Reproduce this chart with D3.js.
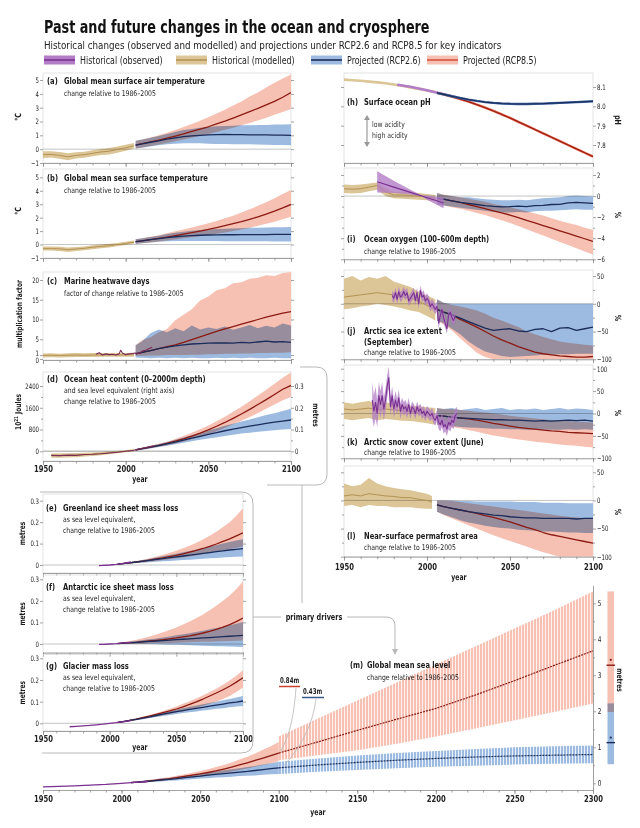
<!DOCTYPE html>
<html><head><meta charset="utf-8">
<script src="https://cdn.jsdelivr.net/npm/d3@7"></script>
<style>
body{margin:0;background:#fff;}
svg{font-family:"Liberation Sans Narrow","DejaVu Sans Condensed","Arial Narrow",sans-serif;}
</style></head><body>
<svg id="c" width="640" height="828"></svg>
<script>
// ---------------- DATA ----------------
const yrsH = [1950,1955,1960,1965,1970,1975,1980,1985,1990,1995,2000,2005];
const yrsP = [2006,2010,2015,2020,2025,2030,2035,2040,2045,2050,2055,2060,2065,2070,2075,2080,2085,2090,2095,2100];
const legendLabels = ["Historical (observed)","Historical (modelled)","Projected (RCP2.6)","Projected (RCP8.5)"];
const xMajor = [1950,2000,2050,2100];

// (a) air temperature
const aHistMid = [-0.4,-0.38,-0.45,-0.55,-0.45,-0.4,-0.3,-0.2,-0.15,-0.02,0.1,0.25];
const aHistLo  = [-0.65,-0.6,-0.7,-0.8,-0.68,-0.62,-0.52,-0.42,-0.38,-0.25,-0.12,0.05];
const aHistHi  = [-0.15,-0.15,-0.2,-0.3,-0.22,-0.18,-0.08,0.02,0.08,0.2,0.32,0.45];
const a26Mid = [0.3,0.38,0.5,0.6,0.72,0.82,0.9,0.96,1.0,1.04,1.05,1.06,1.05,1.05,1.04,1.04,1.03,1.02,1.02,1.0];
const a26Lo  = [0.05,0.1,0.2,0.28,0.35,0.4,0.42,0.42,0.42,0.4,0.38,0.38,0.36,0.35,0.35,0.33,0.32,0.3,0.3,0.28];
const a26Hi  = [0.6,0.7,0.82,0.95,1.1,1.25,1.38,1.45,1.55,1.6,1.65,1.68,1.7,1.72,1.72,1.75,1.75,1.78,1.78,1.8];
const a85Mid = [0.3,0.4,0.52,0.65,0.8,0.95,1.1,1.28,1.45,1.62,1.82,2.02,2.25,2.48,2.72,2.95,3.2,3.45,3.75,4.1];
const a85Lo  = [0.05,0.12,0.22,0.33,0.45,0.58,0.7,0.82,0.96,1.1,1.25,1.4,1.55,1.72,1.9,2.08,2.28,2.48,2.68,2.9];
const a85Hi  = [0.6,0.7,0.85,1.0,1.18,1.38,1.6,1.82,2.05,2.3,2.58,2.85,3.15,3.45,3.8,4.1,4.45,4.8,5.1,5.4];

// (b) sea surface temperature
const bHistMid = [-0.3,-0.3,-0.32,-0.38,-0.33,-0.28,-0.2,-0.14,-0.08,0.0,0.08,0.18];
const bHistLo  = [-0.45,-0.45,-0.48,-0.55,-0.48,-0.42,-0.35,-0.28,-0.22,-0.12,-0.04,0.06];
const bHistHi  = [-0.15,-0.15,-0.16,-0.22,-0.18,-0.14,-0.06,0.0,0.06,0.12,0.2,0.3];
const b26Mid = [0.22,0.28,0.36,0.44,0.52,0.58,0.63,0.67,0.69,0.71,0.72,0.73,0.73,0.74,0.74,0.74,0.74,0.75,0.75,0.75];
const b26Lo  = [0.05,0.1,0.15,0.2,0.24,0.26,0.27,0.27,0.27,0.26,0.26,0.25,0.25,0.25,0.24,0.24,0.24,0.23,0.23,0.22];
const b26Hi  = [0.4,0.46,0.56,0.66,0.78,0.88,0.96,1.02,1.08,1.12,1.15,1.18,1.2,1.22,1.24,1.25,1.26,1.28,1.28,1.3];
const b85Mid = [0.22,0.28,0.37,0.46,0.56,0.66,0.77,0.88,1.0,1.12,1.26,1.4,1.55,1.7,1.88,2.06,2.26,2.48,2.72,2.98];
const b85Lo  = [0.05,0.1,0.16,0.22,0.3,0.38,0.46,0.54,0.62,0.7,0.8,0.9,1.0,1.12,1.25,1.4,1.55,1.7,1.88,2.06];
const b85Hi  = [0.4,0.46,0.58,0.7,0.84,0.98,1.12,1.26,1.42,1.58,1.76,1.95,2.15,2.38,2.62,2.88,3.15,3.45,3.75,4.05];

// (c) marine heatwave days
const cHistMid = [0.9,0.95,0.9,0.95,1.0,0.95,1.0,1.0,1.05,1.0,1.05,1.1];
const cHistLo  = [0.4,0.45,0.4,0.45,0.5,0.5,0.5,0.55,0.55,0.6,0.6,0.6];
const cHistHi  = [1.4,1.45,1.35,1.45,1.5,1.45,1.5,1.5,1.55,1.5,1.55,1.6];
const cObsYears = [1982,1984,1986,1988,1990,1992,1994,1996,1997,1998,2000,2002,2004,2006,2008,2010,2012,2014,2016];
const cObs      = [1.2,1.6,1.0,1.3,1.1,1.2,1.0,1.3,2.2,1.5,1.1,1.3,1.4,1.5,1.4,2.0,2.2,2.6,3.0];
const c26Mid = [1.3,1.7,2.1,2.6,3.0,3.3,3.6,3.8,3.9,4.0,4.05,4.1,4.0,4.2,4.1,4.3,4.5,4.3,4.4,4.2];
const c26Lo  = [0.4,0.3,0.2,0.3,0.2,0.3,0.2,0.3,0.2,0.2,0.3,0.2,0.3,0.2,0.3,0.2,0.2,0.3,0.2,0.2];
const c26Hi  = [3.5,4.5,6.5,7.5,6.8,7.8,7.0,8.5,7.5,8.0,7.6,8.2,7.4,8.0,8.6,7.8,8.4,8.0,9.0,8.5];
const c85Mid = [1.3,1.7,2.1,2.6,3.1,3.6,4.2,4.9,5.6,6.3,7.0,7.6,8.2,8.8,9.4,10.0,10.6,11.1,11.6,12.0];
const c85Lo  = [0.8,0.8,0.9,0.9,1.0,1.0,1.0,1.1,1.1,1.2,1.2,1.3,1.3,1.4,1.4,1.5,1.5,1.6,1.6,1.7];
const c85Hi  = [3.5,4.8,5.5,6.8,7.6,9.8,11.2,12.6,14.8,15.8,17.4,17.9,19.2,19.4,20.3,20.6,21.2,21.0,21.8,22.0];

// (d) ocean heat content (10^21 J)
const dHistYears = [1955,1960,1965,1970,1975,1980,1985,1990,1995,2000,2005];
const dHistMid = [-160,-155,-150,-140,-125,-110,-85,-60,-30,0,40];
const dHistLo  = [-240,-235,-230,-215,-195,-175,-145,-110,-70,-35,0];
const dHistHi  = [-80,-75,-70,-65,-55,-45,-25,-10,10,35,80];
const dObsYears = [1955,1960,1965,1970,1975,1980,1985,1990,1995,2000,2005,2010,2017];
const dObs      = [-150,-160,-140,-150,-120,-110,-90,-60,-35,0,40,110,200];
const d26Mid = [50,95,150,210,270,340,410,480,550,620,690,755,815,870,925,975,1025,1070,1110,1150];
const d26Lo  = [20,60,105,155,205,260,315,370,420,470,520,565,610,650,685,720,750,775,800,820];
const d26Hi  = [80,130,195,265,340,420,505,590,675,760,850,935,1015,1095,1170,1250,1330,1400,1480,1560];
const d85Mid = [50,95,155,220,290,370,460,560,670,790,920,1060,1210,1370,1540,1720,1900,2090,2280,2420];
const d85Lo  = [20,60,110,165,225,290,360,440,530,630,740,860,990,1120,1260,1410,1560,1720,1880,2000];
const d85Hi  = [80,130,200,275,355,450,560,680,810,950,1100,1270,1450,1640,1840,2050,2260,2480,2700,2900];

// (e) Greenland (m)
const eObsYears = [1992,1995,2000,2005,2010,2016];
const eObs = [-0.003,-0.002,0,0.003,0.008,0.014];
const e26Mid = [0.004,0.006,0.01,0.014,0.018,0.022,0.026,0.03,0.034,0.038,0.042,0.046,0.05,0.054,0.058,0.062,0.066,0.07,0.073,0.076];
const e26Lo  = [0.002,0.004,0.007,0.009,0.011,0.013,0.015,0.017,0.019,0.021,0.023,0.025,0.027,0.029,0.031,0.033,0.035,0.037,0.039,0.04];
const e26Hi  = [0.006,0.009,0.013,0.018,0.023,0.029,0.035,0.041,0.047,0.053,0.059,0.065,0.072,0.079,0.086,0.093,0.1,0.107,0.114,0.12];
const e85Mid = [0.004,0.006,0.01,0.014,0.018,0.023,0.028,0.033,0.039,0.045,0.052,0.06,0.068,0.077,0.087,0.098,0.11,0.122,0.136,0.15];
const e85Lo  = [0.002,0.004,0.007,0.01,0.013,0.016,0.019,0.023,0.027,0.031,0.035,0.04,0.045,0.05,0.056,0.062,0.068,0.074,0.08,0.086];
const e85Hi  = [0.006,0.009,0.014,0.019,0.025,0.032,0.04,0.048,0.057,0.067,0.078,0.09,0.104,0.119,0.136,0.155,0.177,0.2,0.23,0.265];

// (f) Antarctic (m)
const fObsYears = [1992,1995,2000,2005,2010,2016];
const fObs = [-0.002,-0.002,0,0.002,0.005,0.008];
const f26Mid = [0.002,0.004,0.006,0.008,0.01,0.012,0.014,0.016,0.018,0.02,0.022,0.024,0.026,0.028,0.03,0.032,0.034,0.036,0.038,0.04];
const f26Lo  = [0,0,0,0,0,0,-0.001,-0.002,-0.003,-0.004,-0.005,-0.006,-0.007,-0.008,-0.009,-0.01,-0.011,-0.012,-0.013,-0.014];
const f26Hi  = [0.004,0.007,0.01,0.014,0.018,0.022,0.026,0.03,0.035,0.04,0.045,0.05,0.056,0.062,0.068,0.074,0.08,0.087,0.094,0.102];
const f85Mid = [0.002,0.004,0.006,0.008,0.011,0.014,0.017,0.02,0.024,0.028,0.033,0.038,0.044,0.051,0.059,0.068,0.078,0.09,0.104,0.12];
const f85Lo  = [0,0,0,0,0.001,0.002,0.003,0.004,0.005,0.006,0.007,0.008,0.009,0.01,0.011,0.012,0.013,0.014,0.015,0.016];
const f85Hi  = [0.005,0.009,0.014,0.02,0.027,0.035,0.044,0.054,0.065,0.077,0.09,0.104,0.12,0.137,0.156,0.177,0.2,0.225,0.255,0.29];

// (g) glaciers (m)
const gObsYears = [1970,1975,1980,1985,1990,1995,2000,2005,2010,2016];
const gObs = [-0.016,-0.014,-0.012,-0.01,-0.007,-0.004,0,0.003,0.007,0.012];
const g26Mid = [0.004,0.008,0.013,0.018,0.024,0.03,0.036,0.042,0.048,0.054,0.059,0.064,0.069,0.074,0.079,0.084,0.089,0.094,0.098,0.103];
const g26Lo  = [0.003,0.006,0.01,0.014,0.019,0.024,0.029,0.034,0.038,0.043,0.047,0.051,0.055,0.059,0.063,0.067,0.07,0.074,0.077,0.08];
const g26Hi  = [0.005,0.01,0.016,0.022,0.029,0.036,0.043,0.05,0.057,0.064,0.07,0.076,0.082,0.088,0.094,0.1,0.106,0.112,0.119,0.126];
const g85Mid = [0.004,0.008,0.013,0.019,0.026,0.033,0.041,0.049,0.057,0.066,0.076,0.087,0.099,0.112,0.126,0.14,0.155,0.171,0.19,0.21];
const g85Lo  = [0.003,0.006,0.01,0.015,0.02,0.025,0.031,0.037,0.043,0.05,0.056,0.063,0.071,0.08,0.09,0.1,0.112,0.126,0.145,0.165];
const g85Hi  = [0.005,0.01,0.016,0.023,0.031,0.039,0.048,0.057,0.067,0.078,0.09,0.102,0.115,0.129,0.144,0.16,0.178,0.197,0.22,0.245];

// (h) surface ocean pH
const hHist = [8.138,8.135,8.132,8.128,8.124,8.119,8.113,8.106,8.098,8.09,8.082,8.073];
const hObsYears = [1982,1990,2000,2010,2017];
const hObs = [8.112,8.101,8.083,8.062,8.048];
const h26Mid = [8.07,8.062,8.052,8.043,8.035,8.028,8.022,8.018,8.015,8.013,8.012,8.012,8.013,8.014,8.016,8.018,8.02,8.022,8.024,8.026];
const h85Mid = [8.07,8.062,8.05,8.038,8.024,8.009,7.993,7.976,7.958,7.94,7.92,7.9,7.88,7.86,7.84,7.82,7.8,7.78,7.76,7.74];

// (i) ocean oxygen (%)
const iHistMid = [0.7,0.65,0.7,0.85,1.0,0.4,0.1,0.1,0.05,0.0,-0.1,-0.2];
const iHistLo  = [0.3,0.25,0.3,0.45,0.6,0.0,-0.2,-0.25,-0.3,-0.35,-0.4,-0.5];
const iHistHi  = [1.1,1.05,1.1,1.2,1.3,0.8,0.4,0.4,0.35,0.3,0.2,0.1];
const iObsYears = [1970,1980,1990,1997,2000,2005,2010];
const iObsMid = [1.35,0.85,0.35,0.0,-0.15,-0.4,-0.65];
const iObsLo  = [0.35,0.3,0.15,-0.05,-0.35,-0.75,-1.15];
const iObsHi  = [2.35,1.45,0.6,0.05,0.05,-0.05,-0.15];
const i26Mid = [-0.2,-0.3,-0.45,-0.6,-0.7,-0.8,-0.9,-0.98,-1.02,-1.0,-0.95,-1.0,-0.9,-0.88,-0.8,-0.78,-0.65,-0.6,-0.65,-0.7];
const i26Lo  = [-0.8,-0.9,-1.0,-1.1,-1.2,-1.3,-1.4,-1.5,-1.55,-1.55,-1.5,-1.55,-1.45,-1.4,-1.4,-1.35,-1.3,-1.25,-1.3,-1.3];
const i26Hi  = [0.3,0.1,0.0,-0.1,-0.1,-0.2,-0.3,-0.35,-0.4,-0.4,-0.35,-0.4,-0.3,-0.2,-0.15,-0.1,0.0,0.05,0.0,-0.05];
const i85Mid = [-0.2,-0.3,-0.45,-0.6,-0.8,-1.0,-1.2,-1.4,-1.6,-1.8,-2.05,-2.3,-2.55,-2.8,-3.05,-3.3,-3.55,-3.8,-4.05,-4.3];
const i85Lo  = [-0.8,-0.9,-1.05,-1.2,-1.4,-1.6,-1.8,-2.05,-2.3,-2.55,-2.85,-3.15,-3.45,-3.75,-4.05,-4.35,-4.65,-4.95,-5.25,-5.55];
const i85Hi  = [0.3,0.15,0.0,-0.1,-0.25,-0.4,-0.55,-0.75,-0.9,-1.05,-1.25,-1.45,-1.65,-1.85,-2.1,-2.35,-2.55,-2.75,-3.0,-3.2];

// (j) Arctic sea ice extent, September (%)
const jHistMid = [12,14,16,18,20,18,16,13,10,5,-3,-10];
const jHistLo  = [-10,-8,-5,-3,0,-2,-5,-8,-12,-15,-22,-30];
const jHistHi  = [45,50,42,48,45,50,40,35,30,22,15,8];
const jObsYears = d3.range(1979, 2018);
const jObs = [15,10,20,8,22,12,15,22,15,20, 5,10,15,20,6,20,0,24,12,15, 5,10,5,-5,0,-5,-10,-5,-35,-22, -10,-25,-35,-45,-20,-15,-25,-30,-22];
const jObsErr = 9;
const j26Mid = [-10,-15,-20,-26,-32,-38,-44,-48,-46,-45,-49,-50,-46,-45,-50,-44,-43,-48,-45,-42];
const j26Lo  = [-30,-35,-45,-55,-68,-78,-86,-90,-94,-96,-95,-94,-93,-92,-92,-91,-91,-90,-90,-90];
const j26Hi  = [8,2,0,0,0,0,0,0,0,0,0,0,0,0,0,0,0,0,0,0];
const j85Mid = [-10,-15,-20,-28,-35,-42,-50,-58,-65,-71,-77,-82,-87,-90,-92,-94,-95,-96,-96,-95];
const j85Lo  = [-30,-38,-48,-62,-75,-88,-96,-100,-100,-100,-100,-100,-100,-100,-100,-100,-100,-100,-100,-100];
const j85Hi  = [8,2,-2,-5,-8,-12,-18,-25,-30,-36,-42,-50,-55,-60,-64,-68,-70,-72,-74,-75];

// (k) Arctic snow cover extent, June (%)
const kHistMid = [10,8,10,12,8,10,8,6,5,3,0,-3];
const kHistLo  = [-12,-15,-12,-10,-15,-12,-14,-16,-17,-19,-22,-25];
const kHistHi  = [25,22,25,28,22,25,22,20,18,16,14,12];
const kObsYears = d3.range(1967, 2019);
const kObs = [30,5,25,0,40,20,40,10,30,60, 80,15,40,10,30,15,35,5,20,10, 15,5,20,0,15,10,0,15,5,10, 0,5,-5,5,0,-5,0,-10,-15,-5, -20,-25,-15,-30,-25,-35,-20,-25,-15,-20, -5,0];
const kObsErr = [40,35,35,30,30,30,30,25,25,25, 25,20,20,20,20,18,18,18,15,15, 15,15,15,12,12,12,12,12,12,12, 12,12,12,12,12,12,12,12,12,12, 15,15,15,15,15,15,15,15,15,15, 15,15];
const k26Mid = [-5,-6,-8,-10,-11,-12,-13,-14,-14,-15,-15,-16,-17,-16,-17,-16,-15,-16,-15,-17];
const k26Lo  = [-25,-26,-28,-30,-31,-32,-33,-34,-34,-35,-35,-36,-36,-36,-36,-36,-35,-36,-35,-36];
const k26Hi  = [12,10,12,8,10,12,8,10,12,8,10,9,11,8,10,12,9,11,10,8];
const k85Mid = [-5,-6,-8,-10,-12,-15,-18,-22,-25,-28,-31,-33,-35,-37,-39,-40,-42,-43,-44,-45];
const k85Lo  = [-25,-27,-30,-33,-37,-41,-45,-49,-52,-55,-58,-60,-63,-65,-67,-69,-71,-72,-74,-76];
const k85Hi  = [12,10,10,8,6,4,2,0,-2,-5,-7,-9,-11,-13,-15,-16,-17,-18,-19,-20];

// (l) near-surface permafrost area (%)
const lHistYears = [1950,1955,1960,1965,1970,1975,1980,1985,1990,1995,2000,2003];
const lHistMid = [8,10,8,12,10,8,7,5,5,2,0,-3];
const lHistLo  = [-10,-8,-12,-8,-10,-10,-12,-12,-12,-14,-15,-15];
const lHistHi  = [30,25,28,40,30,25,22,20,18,15,12,8];
const l26Mid = [-8,-11,-14,-17,-20,-22,-24,-26,-27,-29,-30,-31,-31,-32,-32,-32,-32,-33,-32,-32];
const l26Lo  = [-20,-25,-30,-35,-39,-42,-45,-47,-49,-50,-52,-53,-54,-55,-55,-56,-57,-57,-58,-58];
const l26Hi  = [0,0,0,-1,-1,-2,-2,-2,-2,-2,-3,-3,-3,-4,-4,-4,-5,-5,-5,-5];
const l85Mid = [-8,-11,-14,-17,-20,-23,-27,-30,-34,-38,-43,-48,-52,-57,-61,-64,-67,-70,-73,-76];
const l85Lo  = [-20,-26,-32,-38,-44,-50,-56,-62,-67,-72,-77,-82,-87,-92,-96,-100,-100,-100,-100,-100];
const l85Hi  = [0,0,-1,-3,-5,-7,-9,-11,-13,-15,-17,-19,-21,-23,-25,-27,-29,-30,-32,-33];

// (m) global mean sea level (m)
const mObsYears = [1950,1960,1970,1980,1990,2000,2010,2017];
const mObs = [-0.1,-0.085,-0.07,-0.05,-0.03,0.0,0.03,0.05];
const m26Mid = [0.02,0.03,0.05,0.07,0.09,0.11,0.13,0.155,0.18,0.2,0.225,0.25,0.27,0.29,0.31,0.33,0.355,0.38,0.405,0.43];
const m26Lo  = [0.0,0.01,0.02,0.04,0.05,0.07,0.08,0.1,0.11,0.13,0.14,0.16,0.17,0.18,0.2,0.21,0.22,0.24,0.25,0.26];
const m26Hi  = [0.04,0.05,0.08,0.1,0.13,0.15,0.18,0.21,0.24,0.27,0.3,0.33,0.36,0.39,0.42,0.45,0.48,0.52,0.56,0.6];
const m85Mid = [0.02,0.03,0.05,0.075,0.1,0.125,0.155,0.19,0.225,0.26,0.3,0.345,0.395,0.45,0.51,0.57,0.635,0.7,0.77,0.84];
const m85Lo  = [0.0,0.01,0.03,0.05,0.07,0.09,0.11,0.14,0.16,0.19,0.22,0.25,0.29,0.33,0.37,0.41,0.46,0.51,0.56,0.61];
const m85Hi  = [0.04,0.06,0.08,0.11,0.14,0.17,0.21,0.25,0.29,0.34,0.39,0.45,0.51,0.58,0.66,0.74,0.83,0.93,1.03,1.15];
const yrsX = [2100,2125,2150,2175,2200,2225,2250,2275,2300];
const mx85Mid = [0.84,1.15,1.47,1.78,2.08,2.45,2.85,3.27,3.68];
const mx85Lo  = [0.64,0.78,0.92,1.1,1.3,1.52,1.75,1.98,2.22];
const mx85Hi  = [1.3,1.8,2.3,2.8,3.3,3.8,4.3,4.8,5.33];
const mx26Mid = [0.43,0.51,0.58,0.64,0.69,0.73,0.76,0.78,0.8];
const mx26Lo  = [0.26,0.32,0.37,0.42,0.46,0.49,0.52,0.54,0.56];
const mx26Hi  = [0.6,0.69,0.77,0.84,0.9,0.95,1.0,1.03,1.05];
const bar2300_85 = {lo:1.98, hi:5.33, mid:3.28, star:3.43};
const bar2300_26 = {lo:0.53, hi:2.22, mid:1.13, star:1.27};
const label2100 = ["0.84m","0.43m"];

// ---------------- STYLE ----------------
const C = {
  redBand:"#f6c0b3", blueBand:"#9dbbe0", redLine:"#8b1a12", blueLine:"#1b2c5a",
  tanBand:"#dcc596", tanLine:"#b39355", purBand:"#b27cc6", purLine:"#7a3191",
  frame:"#dcdcdc", axis:"#8c8c8c", guide:"#b8b8b8", zero:"#bdbdbd", text:"#1a1a1a"
};
const K = {title:0.835, sub:0.885, leg:0.84, pt:0.79, ps:0.875, unit:0.82, tick:0.8, year:0.8, lab:0.76};

const svg = d3.select("#c");
const defs = svg.append("defs");

function T(x,y,s,o={}){
  const k = o.k || 1;
  const t = svg.append("text").text(s)
    .attr("transform",`translate(${x},${y})`+(o.rot!=null?` rotate(${o.rot})`:"")+(k!==1?` scale(${k},1)`:""))
    .attr("font-size",o.fs||8).attr("font-weight",o.fw||"normal").attr("fill",o.fill||C.text);
  if(o.anchor) t.attr("text-anchor",o.anchor);
  return t;
}
function band(g,x,y,yrs,lo,hi,fill,o={}){
  const p = g.append("path").datum(yrs.map((t,i)=>[t,lo[i],hi[i]]))
    .attr("d", d3.area().x(d=>x(d[0])).y0(d=>y(d[1])).y1(d=>y(d[2])))
    .attr("fill",fill);
  if(o.op!=null) p.attr("opacity",o.op); else p.style("mix-blend-mode","multiply");
  return p;
}
function line(g,x,y,yrs,v,color,w,dash){
  const p = g.append("path").datum(yrs.map((t,i)=>[t,v[i]]))
    .attr("d", d3.line().x(d=>x(d[0])).y(d=>y(d[1])))
    .attr("fill","none").attr("stroke",color).attr("stroke-width",w||1.2)
    .attr("stroke-linejoin","round");
  if(dash) p.attr("stroke-dasharray",dash);
  return p;
}
function styleAx(sel,fs,fw,k){
  sel.attr("font-family",null).attr("font-size",fs).attr("font-weight",fw||"normal");
  sel.selectAll("line").attr("stroke",C.axis).attr("stroke-width",0.8);
  sel.selectAll(".domain").attr("stroke",C.axis).attr("stroke-width",0.8);
  sel.selectAll("text").attr("fill","#222").attr("transform",`scale(${k||K.tick},1)`);
}

function panel(p){
  const [x0,x1] = p.x.range();
  const id = "cp"+p.id;
  defs.append("clipPath").attr("id",id).append("rect")
    .attr("x",x0).attr("y",p.top).attr("width",x1-x0).attr("height",p.bottom-p.top);
  svg.append("rect").attr("x",x0).attr("y",p.top).attr("width",x1-x0).attr("height",p.bottom-p.top)
    .attr("fill","none").attr("stroke",C.frame).attr("stroke-width",0.8);
  const plot = svg.append("g").attr("clip-path",`url(#${id})`).style("isolation","isolate");
  if(p.zero){
    plot.append("line").attr("x1",x0).attr("x2",x1).attr("y1",p.y(0)).attr("y2",p.y(0))
      .attr("stroke",C.zero).attr("stroke-width",p.zeroW||0.9);
  }
  const ax = svg.append("g");
  const lab = p.fmt || d3.format("d");
  const L = ax.append("g").attr("transform",`translate(${x0},0)`)
    .call(d3.axisLeft(p.y).tickValues(p.yt).tickSize(3).tickPadding(2).tickFormat(p.side==="left"?lab:""));
  L.select(".domain").remove(); styleAx(L,7.5);
  if(p.nudge) L.selectAll(".tick text").filter(d=>p.nudge[d]!=null).attr("y",d=>p.nudge[d]);
  const yr = p.y2 || p.y;
  const R = ax.append("g").attr("transform",`translate(${x1},0)`)
    .call(d3.axisRight(yr).tickValues(p.y2t||p.yt).tickSize(3).tickPadding(2)
      .tickFormat((p.side==="right"||p.y2)?(p.fmt2||lab):""));
  R.select(".domain").remove(); styleAx(R,7.5);
  if(p.ym){
    const L2 = ax.append("g").attr("transform",`translate(${x0},0)`).call(d3.axisLeft(p.y).tickValues(p.ym).tickSize(2).tickFormat(""));
    L2.select(".domain").remove(); styleAx(L2,7);
    const R2 = ax.append("g").attr("transform",`translate(${x1},0)`).call(d3.axisRight(p.y).tickValues(p.ym).tickSize(2).tickFormat(""));
    R2.select(".domain").remove(); styleAx(R2,7);
  }
  const B1 = ax.append("g").attr("transform",`translate(0,${p.bottom})`)
    .call(d3.axisBottom(p.x).tickValues(d3.range(1950,2101,10)).tickSize(2.5).tickSizeOuter(0).tickFormat(""));
  styleAx(B1,8);
  const B2 = ax.append("g").attr("transform",`translate(0,${p.bottom})`)
    .call(d3.axisBottom(p.x).tickValues(xMajor).tickSize(4).tickPadding(p.xpad||0).tickSizeOuter(0).tickFormat(p.xl?d3.format("d"):""));
  B2.select(".domain").remove(); styleAx(B2,9.5,"bold",K.year);
  return plot;
}

const xL = d3.scaleLinear().domain([1950,2100]).range([43,291]);
const xS = d3.scaleLinear().domain([1950,2100]).range([43,243]);
const xR = d3.scaleLinear().domain([1950,2100]).range([344,593]);
const xM = d3.scaleLinear().domain([1950,2300]).range([43,593]);
const fm1 = d=> d===0 ? "0" : d3.format(".1f")(d);

function proj(g,x,y,s){
  band(g,x,y,yrsP,s.r[1],s.r[2],C.redBand);
  band(g,x,y,yrsP,s.b[1],s.b[2],C.blueBand);
  line(g,x,y,yrsP,s.r[0],C.redLine,1.3);
  line(g,x,y,yrsP,s.b[0],C.blueLine,1.3);
}
function ptitle(x,y,letter,lines,subs,dl,ds){
  T(x,y,letter,{fs:9.5,fw:"bold",k:K.pt});
  lines.forEach((s,i)=>T(x+17,y+i*(dl||11),s,{fs:9.5,fw:"bold",k:K.pt}));
  const y0 = y + (lines.length-1)*(dl||11);
  subs.forEach((s,i)=>T(x+17,y0+(i+1)*(ds||11),s,{fs:7.8,k:K.ps}));
}

// ---------------- TITLE & LEGEND ----------------
T(44,33,"Past and future changes in the ocean and cryosphere",{fs:17,fw:"bold",fill:"#111",k:K.title});
T(44,49,"Historical changes (observed and modelled) and projections under RCP2.6 and RCP8.5 for key indicators",{fs:11,fill:"#222",k:K.sub});
const legX = [44,176,311,427];
const legFill = [C.purBand,C.tanBand,C.blueBand,C.redBand];
const legLine = [C.purLine,C.tanLine,C.blueLine,"#d9543f"];
legendLabels.forEach((s,i)=>{
  svg.append("rect").attr("x",legX[i]).attr("y",55.5).attr("width",31).attr("height",9).attr("fill",legFill[i]);
  svg.append("line").attr("x1",legX[i]).attr("x2",legX[i]+31).attr("y1",60).attr("y2",60).attr("stroke",legLine[i]).attr("stroke-width",1.6);
  T(legX[i]+36,64,s,{fs:10.5,fill:"#222",k:K.leg});
});

// ---------------- (a) ----------------
{
  const y = d3.scaleLinear().domain([-1,5]).range([163,80]);
  const g = panel({id:"a",x:xL,y,top:73,bottom:163,yt:[-1,0,1,2,3,4,5],side:"left",zero:true,fmt:d3.format("d")});
  band(g,xL,y,yrsH,aHistLo,aHistHi,C.tanBand);
  line(g,xL,y,yrsH,aHistMid,C.tanLine,1);
  proj(g,xL,y,{r:[a85Mid,a85Lo,a85Hi],b:[a26Mid,a26Lo,a26Hi]});
  ptitle(47,84,"(a)",["Global mean surface air temperature"],["change relative to 1986–2005"],11,12);
  T(21,117,"°C",{fs:8.5,fw:"bold",rot:-90,anchor:"middle",k:K.unit});
}
// ---------------- (b) ----------------
{
  const y = d3.scaleLinear().domain([-1,5]).range([258,177.3]);
  const g = panel({id:"b",x:xL,y,top:169,bottom:258,yt:[-1,0,1,2,3,4,5],side:"left",zero:true,fmt:d3.format("d")});
  band(g,xL,y,yrsH,bHistLo,bHistHi,C.tanBand);
  line(g,xL,y,yrsH,bHistMid,C.tanLine,1);
  proj(g,xL,y,{r:[b85Mid,b85Lo,b85Hi],b:[b26Mid,b26Lo,b26Hi]});
  ptitle(47,181,"(b)",["Global mean sea surface temperature"],["change relative to 1986–2005"],11,12);
  T(21,211,"°C",{fs:8.5,fw:"bold",rot:-90,anchor:"middle",k:K.unit});
}
// ---------------- (c) ----------------
{
  const y = d3.scaleLinear().domain([0,20]).range([359,280]);
  const g = panel({id:"c",x:xL,y,top:272,bottom:360,yt:[0,1,5,10,15,20],side:"left",fmt:d3.format("d"),nudge:{0:1.5,1:-2}});
  band(g,xL,y,yrsH,cHistLo,cHistHi,C.tanBand);
  line(g,xL,y,yrsH,cHistMid,C.tanLine,1);
  proj(g,xL,y,{r:[c85Mid,c85Lo,c85Hi],b:[c26Mid,c26Lo,c26Hi]});
  line(g,xL,y,cObsYears,cObs,"#7b2a55",1.1);
  ptitle(47,284,"(c)",["Marine heatwave days"],["factor of change relative to 1986–2005"],11,12);
  T(22,314,"multiplication factor",{fs:8,fw:"bold",rot:-90,anchor:"middle",k:K.unit});
}
// ---------------- (d) ----------------
{
  const y = d3.scaleLinear().domain([0,2400]).range([451.3,386]);
  const y2 = d3.scaleLinear().domain([0,0.3]).range([451.3,386]);
  const g = panel({id:"d",x:xL,y,y2,top:372,bottom:461,yt:[0,800,1600,2400],y2t:[0,0.1,0.2,0.3],side:"left",
    zero:true,zeroW:1.6,fmt:d3.format("d"),fmt2:fm1,xl:true,ym:[400,1200,2000]});
  band(g,xL,y,dHistYears,dHistLo,dHistHi,C.tanBand);
  line(g,xL,y,dHistYears,dHistMid,C.tanLine,1);
  proj(g,xL,y,{r:[d85Mid,d85Lo,d85Hi],b:[d26Mid,d26Lo,d26Hi]});
  line(g,xL,y,dObsYears,dObs,"#7b2a55",1.1);
  ptitle(47,382,"(d)",["Ocean heat content (0–2000m depth)"],["and sea level equivalent (right axis)","change relative to 1986–2005"],11,11);
  const jt = T(21,412,"",{fs:8,fw:"bold",rot:-90,anchor:"middle",k:K.unit});
  jt.append("tspan").text("10");
  jt.append("tspan").text("21").attr("font-size",5.5).attr("dy",-3.5);
  jt.append("tspan").text(" Joules").attr("dy",3.5);
  T(313,415,"metres",{fs:8,fw:"bold",rot:90,anchor:"middle",k:K.unit});
  T(140,482,"year",{fs:8.5,fw:"bold",anchor:"middle",k:K.year});
}
// ---------------- (e),(f),(g) ----------------
function small(id,top,bottom,y0,y3,obsY,obs,r,b,titleY,title,xl){
  const y = d3.scaleLinear().domain([0,0.3]).range([y0,y3]);
  const g = panel({id,x:xS,y,top,bottom,yt:[0,0.1,0.2,0.3],side:"left",zero:true,fmt:fm1,xl});
  proj(g,xS,y,{r,b});
  line(g,xS,y,obsY,obs,C.purLine,1.3);
  ptitle(46,titleY,"("+id+")",[title],["as sea level equivalent,","change relative to 1986–2005"],11,11);
  T(25,(top+bottom)/2,"metres",{fs:8,fw:"bold",rot:-90,anchor:"middle",k:K.unit});
}
small("e",494,573,565,500.7,eObsYears,eObs,[e85Mid,e85Lo,e85Hi],[e26Mid,e26Lo,e26Hi],511,"Greenland ice sheet mass loss",false);
small("f",575,652.7,644,579.3,fObsYears,fObs,[f85Mid,f85Lo,f85Hi],[f26Mid,f26Lo,f26Hi],590,"Antarctic ice sheet mass loss",false);
small("g",654.5,731,723.3,658.3,gObsYears,gObs,[g85Mid,g85Lo,g85Hi],[g26Mid,g26Lo,g26Hi],669,"Glacier mass loss",true);
T(140,750,"year",{fs:8.5,fw:"bold",anchor:"middle",k:K.year});

// ---------------- (h) ----------------
{
  const y = d3.scaleLinear().domain([7.8,8.1]).range([145,87]);
  const g = panel({id:"h",x:xR,y,top:73,bottom:163,yt:[7.8,7.9,8.0,8.1],side:"right",fmt:d3.format(".1f")});
  line(g,xR,y,yrsH,hHist,C.tanBand,2.6);
  line(g,xR,y,hObsYears,hObs,C.purBand,2.6);
  line(g,xR,y,yrsP,h85Mid,"#e0563f",2.4);
  line(g,xR,y,yrsP,h85Mid,C.redLine,1);
  line(g,xR,y,yrsP,h26Mid,"#3a5f9a",2.4);
  line(g,xR,y,yrsP,h26Mid,C.blueLine,1.1);
  ptitle(347,105,"(h)",["Surface ocean pH"],[]);
  T(372,127,"low acidity",{fs:7.8,fill:"#333",k:K.ps}); T(372,138,"high acidity",{fs:7.8,fill:"#333",k:K.ps});
  svg.append("line").attr("x1",367).attr("x2",367).attr("y1",119).attr("y2",143).attr("stroke","#999").attr("stroke-width",1.2);
  svg.append("path").attr("d","M364,120 L367,115 L370,120 Z M364,142 L367,147 L370,142 Z").attr("fill","#999");
  T(615,120,"pH",{fs:8.5,fw:"bold",rot:90,anchor:"middle",k:K.unit});
}
// ---------------- (i) ----------------
{
  const y = d3.scaleLinear().domain([-6,2]).range([259.3,175]);
  const g = panel({id:"i",x:xR,y,top:168,bottom:259.3,yt:[-6,-4,-2,0,2],ym:[-5,-3,-1,1],side:"right",zero:true,fmt:d3.format("d")});
  band(g,xR,y,yrsH,iHistLo,iHistHi,C.tanBand);
  line(g,xR,y,yrsH,iHistMid,C.tanLine,1);
  proj(g,xR,y,{r:[i85Mid,i85Lo,i85Hi],b:[i26Mid,i26Lo,i26Hi]});
  band(g,xR,y,iObsYears,iObsLo,iObsHi,C.purBand,{op:0.8});
  line(g,xR,y,iObsYears,iObsMid,C.purLine,1.1);
  ptitle(347,242,"(i)",["Ocean oxygen (100–600m depth)"],["change relative to 1986–2005"],11,12);
  T(615,215,"%",{fs:8.5,fw:"bold",rot:90,anchor:"middle",k:K.unit});
}
// ---------------- (j) ----------------
{
  const y = d3.scaleLinear().domain([-100,50]).range([359.3,276]);
  const g = panel({id:"j",x:xR,y,top:270,bottom:359.3,yt:[-100,-50,0,50],ym:[-75,-25,25],side:"right",zero:true,fmt:d3.format("d")});
  band(g,xR,y,yrsH,jHistLo,jHistHi,C.tanBand);
  line(g,xR,y,yrsH,jHistMid,C.tanLine,1);
  proj(g,xR,y,{r:[j85Mid,j85Lo,j85Hi],b:[j26Mid,j26Lo,j26Hi]});
  band(g,xR,y,jObsYears,jObs.map(v=>v-jObsErr),jObs.map(v=>v+jObsErr),C.purBand,{op:0.75});
  line(g,xR,y,jObsYears,jObs,C.purLine,1.1);
  ptitle(347,334,"(j)",["Arctic sea ice extent","(September)"],["change relative to 1986–2005"],11,10);
  T(615,318,"%",{fs:8.5,fw:"bold",rot:90,anchor:"middle",k:K.unit});
}
// ---------------- (k) ----------------
{
  const y = d3.scaleLinear().domain([-100,100]).range([458.3,368.7]);
  const g = panel({id:"k",x:xR,y,top:365,bottom:458.3,yt:[-100,-50,0,50,100],ym:[-75,-25,25,75],side:"right",zero:true,fmt:d3.format("d")});
  band(g,xR,y,yrsH,kHistLo,kHistHi,C.tanBand);
  line(g,xR,y,yrsH,kHistMid,C.tanLine,1);
  proj(g,xR,y,{r:[k85Mid,k85Lo,k85Hi],b:[k26Mid,k26Lo,k26Hi]});
  band(g,xR,y,kObsYears,kObs.map((v,i)=>v-kObsErr[i]),kObs.map((v,i)=>v+kObsErr[i]),C.purBand,{op:0.75});
  line(g,xR,y,kObsYears,kObs,C.purLine,1.1);
  ptitle(347,445,"(k)",["Arctic snow cover extent (June)"],["change relative to 1986–2005"],11,10);
  T(615,413,"%",{fs:8.5,fw:"bold",rot:90,anchor:"middle",k:K.unit});
}
// ---------------- (l) ----------------
{
  const y = d3.scaleLinear().domain([-100,50]).range([556.7,472.3]);
  const g = panel({id:"l",x:xR,y,top:466,bottom:556.7,yt:[-100,-50,0,50],ym:[-75,-25,25],side:"right",zero:true,fmt:d3.format("d"),xl:true,xpad:3});
  band(g,xR,y,lHistYears,lHistLo,lHistHi,C.tanBand);
  line(g,xR,y,lHistYears,lHistMid,C.tanLine,1);
  proj(g,xR,y,{r:[l85Mid,l85Lo,l85Hi],b:[l26Mid,l26Lo,l26Hi]});
  ptitle(347,539,"(l)",["Near–surface permafrost area"],["change relative to 1986–2005"],11,11);
  T(615,512,"%",{fs:8.5,fw:"bold",rot:90,anchor:"middle",k:K.unit});
  T(459,580,"year",{fs:8.5,fw:"bold",anchor:"middle",k:K.year});
}

// ---------------- (m) ----------------
{
  const y = d3.scaleLinear().domain([0,5]).range([783.3,603.3]);
  defs.append("pattern").attr("id","stR").attr("width",3).attr("height",6).attr("patternUnits","userSpaceOnUse")
    .append("rect").attr("width",2.2).attr("height",6).attr("fill",C.redBand);
  defs.append("pattern").attr("id","stB").attr("width",3).attr("height",6).attr("patternUnits","userSpaceOnUse")
    .append("rect").attr("width",2.2).attr("height",6).attr("fill",C.blueBand);
  const g = svg.append("g").style("isolation","isolate");
  band(g,xM,y,yrsP,m85Lo,m85Hi,C.redBand);
  band(g,xM,y,yrsP,m26Lo,m26Hi,C.blueBand);
  band(g,xM,y,yrsX,mx85Lo,mx85Hi,"url(#stR)");
  band(g,xM,y,yrsX,mx26Lo,mx26Hi,"url(#stB)");
  line(g,xM,y,yrsP,m85Mid,C.redLine,1.3);
  line(g,xM,y,yrsP,m26Mid,C.blueLine,1.3);
  line(g,xM,y,yrsX,mx85Mid,C.redLine,1.2,"2,1");
  line(g,xM,y,yrsX,mx26Mid,C.blueLine,1.2,"2,1");
  line(g,xM,y,mObsYears,mObs,C.purLine,1.3);
  const B1 = svg.append("g").attr("transform","translate(0,790)")
    .call(d3.axisBottom(xM).tickValues(d3.range(1950,2301,10)).tickSize(2.5).tickSizeOuter(0).tickFormat(""));
  styleAx(B1,8);
  const B2 = svg.append("g").attr("transform","translate(0,790)")
    .call(d3.axisBottom(xM).tickValues(d3.range(1950,2301,50)).tickSize(4).tickPadding(1).tickSizeOuter(0).tickFormat(d3.format("d")));
  B2.select(".domain").remove(); styleAx(B2,9.5,"bold",K.year);
  const yAx = d3.scaleLinear().domain([-0.2,5.5]).range([y(-0.2),y(5.5)]);
  const R1 = svg.append("g").attr("transform","translate(593,0)")
    .call(d3.axisRight(yAx).tickValues([0,1,2,3,4,5]).tickSize(3).tickPadding(3).tickSizeOuter(0).tickFormat(d3.format("d")));
  styleAx(R1,8);
  const R2 = svg.append("g").attr("transform","translate(593,0)")
    .call(d3.axisRight(yAx).tickValues([0.5,1.5,2.5,3.5,4.5]).tickSize(2).tickSizeOuter(0).tickFormat(""));
  R2.select(".domain").remove(); styleAx(R2,8);
  T(318,815,"year",{fs:8.5,fw:"bold",anchor:"middle",k:K.year});
  const gb = svg.append("g").style("isolation","isolate");
  [[bar2300_26,C.blueBand],[bar2300_85,C.redBand]].forEach(([b,f])=>{
    gb.append("rect").attr("x",607.5).attr("width",6.5).attr("y",y(b.hi)).attr("height",y(b.lo)-y(b.hi))
      .attr("fill",f).style("mix-blend-mode","multiply");
  });
  [[bar2300_26,C.blueLine],[bar2300_85,C.redLine]].forEach(([b,l])=>{
    svg.append("line").attr("x1",606.5).attr("x2",615).attr("y1",y(b.mid)).attr("y2",y(b.mid)).attr("stroke",l).attr("stroke-width",1.4);
    svg.append("circle").attr("cx",610.8).attr("cy",y(b.star)).attr("r",1.1).attr("fill",l);
  });
  T(617,680,"metres",{fs:8,fw:"bold",rot:90,anchor:"middle",k:K.unit});
  ptitle(350,668,"(m)",["Global mean sea level"],["change relative to 1986–2005"],11,12);
  T(280,683,label2100[0],{fs:8,fw:"bold",k:K.lab});
  svg.append("line").attr("x1",279).attr("x2",300).attr("y1",686.5).attr("y2",686.5).attr("stroke","#c8412f").attr("stroke-width",1.5);
  T(303,694,label2100[1],{fs:8,fw:"bold",k:K.lab});
  svg.append("line").attr("x1",302).attr("x2",324).attr("y1",697.5).attr("y2",697.5).attr("stroke","#3b5a8c").attr("stroke-width",1.5);
  svg.append("path").attr("d",`M296,688 C294,715 290,735 ${xM(2100)+2},${y(0.84)-2}`).attr("fill","none").attr("stroke",C.guide).attr("stroke-width",0.8);
  svg.append("path").attr("d",`M316,699 C313,725 300,748 ${xM(2100)+6},${y(0.43)-3}`).attr("fill","none").attr("stroke",C.guide).attr("stroke-width",0.8);
}

// ---------------- guides ----------------
const guide = (d)=>svg.append("path").attr("d",d).attr("fill","none").attr("stroke",C.guide).attr("stroke-width",1);
guide("M300,367 H316 Q327,367 327,378 V474 Q327,485 316,485 H267");
guide("M302,485 V603");
guide("M40,492 H241 Q253,492 253,504 V741 Q253,753 241,753 H42");
guide("M253,617 H281");
guide("M347,617 H386 Q395,617 395,626 V650");
svg.append("path").attr("d","M392,649 L395,655 L398,649 Z").attr("fill",C.guide);
T(314,620,"primary drivers",{fs:9.5,fw:"bold",anchor:"middle",k:K.lab});
</script>
</body></html>
